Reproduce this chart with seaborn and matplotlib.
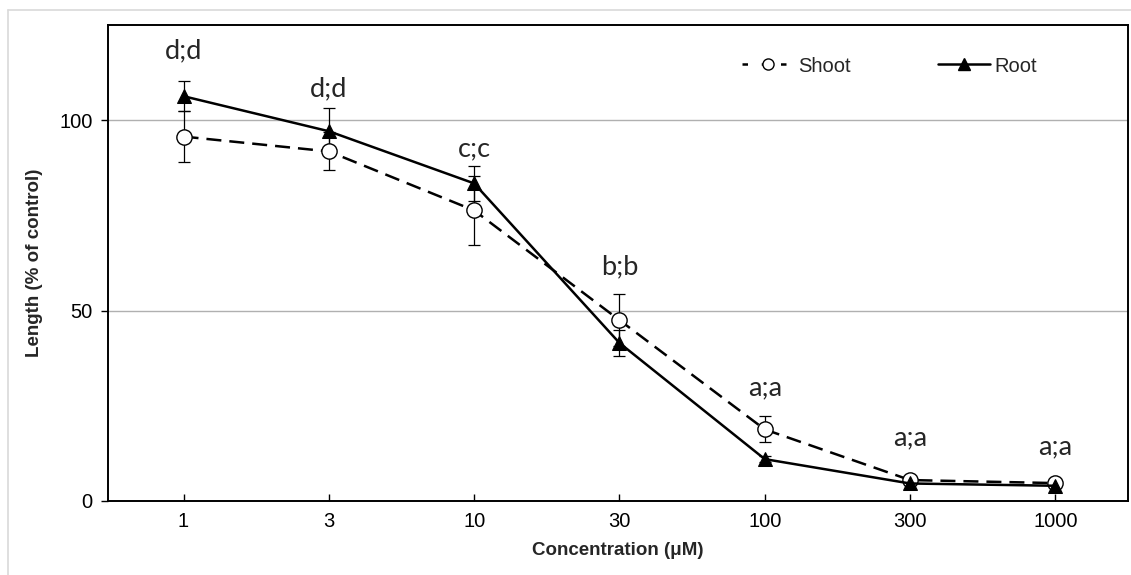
import numpy as np
import pandas as pd
import seaborn as sns
import matplotlib.pyplot as plt
from matplotlib.lines import Line2D

# values
conc = ["1", "3", "10", "30", "100", "300", "1000"]
shoot = [95.7, 91.8, 76.3, 47.5, 18.8, 5.5, 4.7]
shoot_err = [6.7, 5.0, 9.0, 6.8, 3.4, 0.8, 0.5]
root = [106.3, 97.1, 83.4, 41.5, 11.0, 4.6, 4.0]
root_err = [4.0, 6.0, 4.6, 3.4, 0.8, 0.5, 0.4]
letters = ["d;d", "d;d", "c;c", "b;b", "a;a", "a;a", "a;a"]
letter_y = [118.2, 108.2, 92.4, 61.6, 29.7, 16.6, 14.2]

sns.set_style("white")
plt.rcParams['font.family'] = ['Liberation Sans', 'DejaVu Sans']

pos = np.arange(len(conc))
df_shoot = pd.DataFrame({"pos": pos, "length": shoot})
df_root = pd.DataFrame({"pos": pos, "length": root})

W, H = 1131, 575
fig = plt.figure(figsize=(W / 100, H / 100), dpi=100)
ax = fig.add_axes([108 / W, 1 - 501 / H, (1128 - 108) / W, (501 - 25) / H])

# light grey border of the original screenshot
fig.add_artist(Line2D([8 / W, 8 / W], [0, 1 - 10 / H], color="#d9d9d9", lw=1.2))
fig.add_artist(Line2D([8 / W, 1], [1 - 10 / H, 1 - 10 / H], color="#d9d9d9", lw=1.2))

# error bars under the markers
ax.errorbar(pos, shoot, yerr=shoot_err, fmt="none", ecolor="black",
            elinewidth=0.9, capsize=4.3, capthick=0.9, zorder=2)
ax.errorbar(pos, root, yerr=root_err, fmt="none", ecolor="black",
            elinewidth=0.9, capsize=4.3, capthick=0.9, zorder=2)

sns.lineplot(data=df_shoot, x="pos", y="length", color="black", linewidth=1.8,
             linestyle=(0, (6, 3.2)), marker="o", markersize=11,
             markerfacecolor="white", markeredgecolor="black",
             markeredgewidth=1.0, zorder=3, ax=ax)
sns.lineplot(data=df_root, x="pos", y="length", color="black", linewidth=1.8,
             marker="^", markersize=10, markerfacecolor="black",
             markeredgecolor="black", zorder=4, ax=ax)

for x, lab, y in zip(pos, letters, letter_y):
    ax.text(x, y, lab, ha="center", va="center", fontsize=19.5,
            family=["Lato", "DejaVu Sans"])

ax.set_xlim(-0.52, 6.5)
ax.set_ylim(0, 125)
ax.set_xticks(pos)
ax.set_xticklabels(conc)
ax.set_yticks([0, 50, 100])
ax.yaxis.grid(True, color="#b0b0b0", linewidth=1.0)
ax.xaxis.grid(False)
ax.set_axisbelow(True)
ax.tick_params(axis="x", direction="in", length=5, width=1, pad=8,
               labelsize=14.5, bottom=True, colors="black")
ax.tick_params(axis="y", direction="out", length=5, width=1, pad=6,
               labelsize=14.5, left=True, colors="black")
for s in ax.spines.values():
    s.set_color("black")
    s.set_linewidth(1.4)

ax.set_xlabel("Concentration (μM)", fontsize=13.5, fontweight="bold", labelpad=8)
ax.set_ylabel("Length (% of control)", fontsize=13.5, fontweight="bold", labelpad=12)

handles = [
    Line2D([], [], color="black", lw=1.8, linestyle=(0, (2.2, 5.5)), marker="o",
           markersize=8, markerfacecolor="white", markeredgecolor="black"),
    Line2D([], [], color="black", lw=1.8, marker="^", markersize=9,
           markerfacecolor="black"),
]
fig.legend(handles, ["Shoot", "Root"], loc="center left",
           bbox_to_anchor=(742 / W, 1 - 66 / H), bbox_transform=fig.transFigure,
           ncol=2, frameon=False, fontsize=14.5, handlelength=2.6,
           handletextpad=0.2, columnspacing=4.3, borderpad=0, borderaxespad=0)

fig.savefig("out.png", dpi=100)
